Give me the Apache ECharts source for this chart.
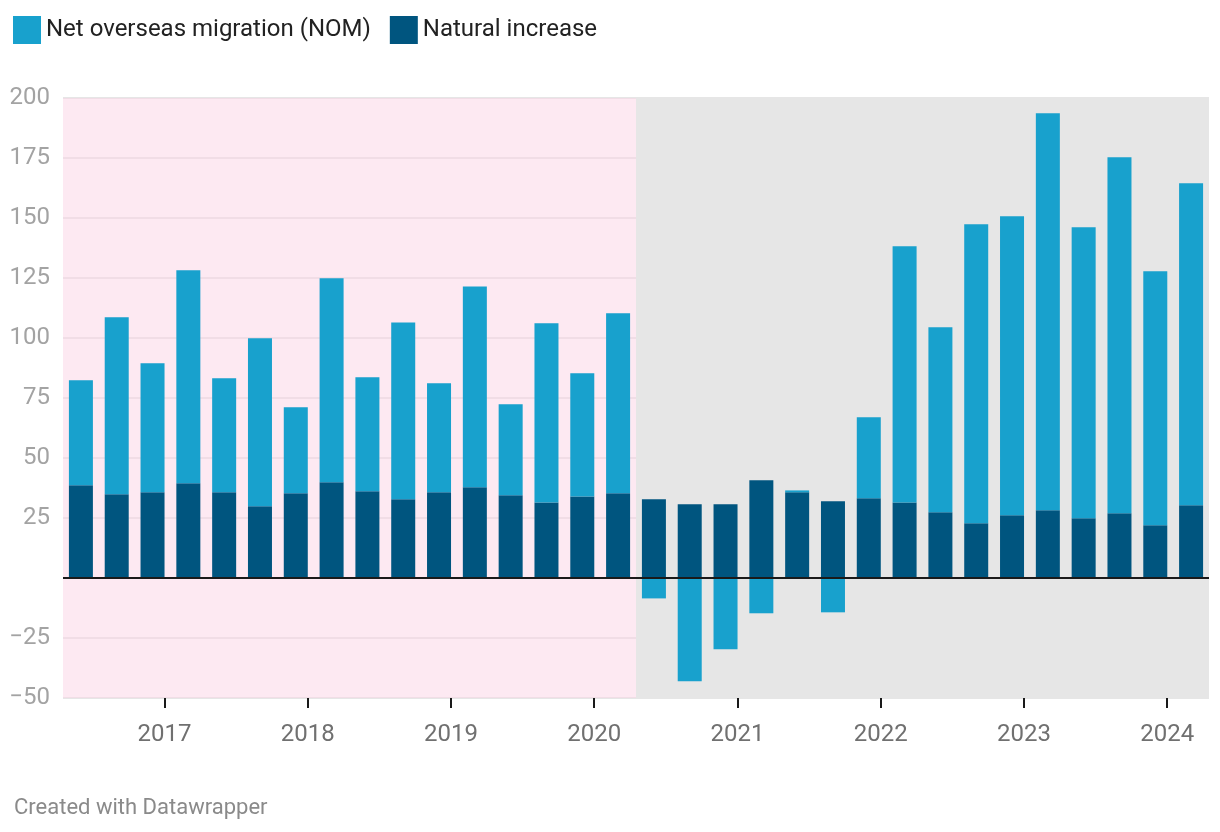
<!DOCTYPE html>
<html>
<head>
<meta charset="utf-8">
<script src="https://cdn.jsdelivr.net/npm/echarts@6/dist/echarts.min.js"></script>
<style>
html,body{margin:0;padding:0;background:#fff;}
#chart{width:1220px;height:832px;}
</style>
</head>
<body>
<div id="chart"></div>
<script>
// Quarters (reference month of each quarter)
const quarters = [
  'Jun 2016','Sep 2016','Dec 2016','Mar 2017','Jun 2017','Sep 2017','Dec 2017','Mar 2018',
  'Jun 2018','Sep 2018','Dec 2018','Mar 2019','Jun 2019','Sep 2019','Dec 2019','Mar 2020',
  'Jun 2020','Sep 2020','Dec 2020','Mar 2021','Jun 2021','Sep 2021','Dec 2021','Mar 2022',
  'Jun 2022','Sep 2022','Dec 2022','Mar 2023','Jun 2023','Sep 2023','Dec 2023','Mar 2024'
];
// Natural increase (thousands)
const naturalIncrease = [
  38.6, 34.9, 35.7, 39.5, 35.7, 29.9, 35.3, 39.9,
  36.1, 32.8, 35.7, 37.8, 34.5, 31.5, 34.0, 35.3,
  32.8, 30.7, 30.7, 40.7, 35.7, 32.0, 33.2, 31.5,
  27.4, 22.8, 26.1, 28.2, 24.9, 27.0, 22.0, 30.3
];
// Net overseas migration (thousands)
const netOverseasMigration = [
  43.8, 73.7, 53.8, 88.7, 47.5, 70.0, 35.8, 85.0,
  47.5, 73.7, 45.4, 83.7, 37.9, 74.6, 51.3, 75.0,
  -8.5, -43.0, -29.7, -14.7, 0.8, -14.3, 33.8, 106.7,
  77.1, 124.6, 124.6, 165.4, 121.2, 148.3, 105.8, 134.2
];
const yearTicks = [2017, 2018, 2019, 2020, 2021, 2022, 2023, 2024];

const monthIdx = {Jan:0,Feb:1,Mar:2,Apr:3,May:4,Jun:5,Jul:6,Aug:7,Sep:8,Oct:9,Nov:10,Dec:11};
const quarterYear = q => { const [m, y] = q.split(' '); return Number(y) + monthIdx[m] / 12; };
// time-scale axis aligned with the category bands (each band = one quarter)
const X_MIN = quarterYear(quarters[0]) - 0.125;
const X_MAX = quarterYear(quarters[quarters.length - 1]) + 0.125;
const SPLIT = (quarterYear('Mar 2020') + quarterYear('Jun 2020')) / 2;

const chart = echarts.init(document.getElementById('chart'));
const FONT = 'Roboto, "Noto Sans", sans-serif';

chart.setOption({
  animation: false,
  textStyle: {fontFamily: FONT},
  legend: {
    left: 8, top: 11,
    itemWidth: 28, itemHeight: 28, itemGap: 19,
    icon: 'rect',
    data: ['Net overseas migration (NOM)', 'Natural increase'],
    textStyle: {fontSize: 24, color: '#222', fontFamily: FONT, padding: [0, 0, 0, 0]},
    selectedMode: false
  },
  title: {
    text: 'Created with Datawrapper',
    left: 9, top: 792,
    textStyle: {fontSize: 22, fontWeight: 'normal', color: '#8a8a8a', fontFamily: FONT}
  },
  grid: {left: 63, right: 11, top: 98, bottom: 134},
  xAxis: [
    {
      type: 'category', data: quarters, boundaryGap: true,
      axisLine: {show: false}, axisTick: {show: false}, axisLabel: {show: false},
      splitLine: {show: false}
    },
    {
      type: 'value', min: X_MIN, max: X_MAX, position: 'bottom',
      splitLine: {show: false},
      axisLine: {show: false, onZero: false},
      axisTick: {show: true, customValues: yearTicks, length: 10, lineStyle: {color: '#1a1a1a', width: 2}},
      axisLabel: {customValues: yearTicks, margin: 25, fontSize: 24, color: '#707070', fontFamily: FONT,
        formatter: v => String(Math.round(v))}
    }
  ],
  yAxis: {
    type: 'value', min: -50, max: 200, interval: 25,
    axisLine: {show: false}, axisTick: {show: false},
    splitLine: {lineStyle: {color: '#e6e6e6', width: 2}},
    axisLabel: {
      fontSize: 24, color: '#a3a3a3', margin: 13, fontFamily: FONT,
      formatter: v => v === 0 ? '' : (v < 0 ? '\u2212' + Math.abs(v) : String(v))
    }
  },
  series: [
    {
      name: 'background', type: 'line', xAxisIndex: 1, data: [], z: 1, silent: true,
      markArea: {
        silent: true,
        data: [
          [{xAxis: X_MIN, yAxis: -50, itemStyle: {color: 'rgba(251,211,229,0.5)'}}, {xAxis: SPLIT, yAxis: 200}],
          [{xAxis: SPLIT, yAxis: -50, itemStyle: {color: 'rgba(229,229,229,0.97)'}}, {xAxis: X_MAX, yAxis: 200}]
        ]
      }
    },
    {
      name: 'Natural increase', type: 'bar', stack: 'total', barWidth: 24, z: 2,
      itemStyle: {color: '#00557f'},
      data: naturalIncrease
    },
    {
      name: 'Net overseas migration (NOM)', type: 'bar', stack: 'total', barWidth: 24, z: 2,
      itemStyle: {color: '#18a1cd'},
      data: netOverseasMigration,
      markLine: {
        silent: true, symbol: 'none', label: {show: false}, z: 5,
        lineStyle: {color: '#1a1a1a', width: 2, type: 'solid'},
        data: [{yAxis: 0}]
      }
    }
  ]
});
</script>
</body>
</html>
